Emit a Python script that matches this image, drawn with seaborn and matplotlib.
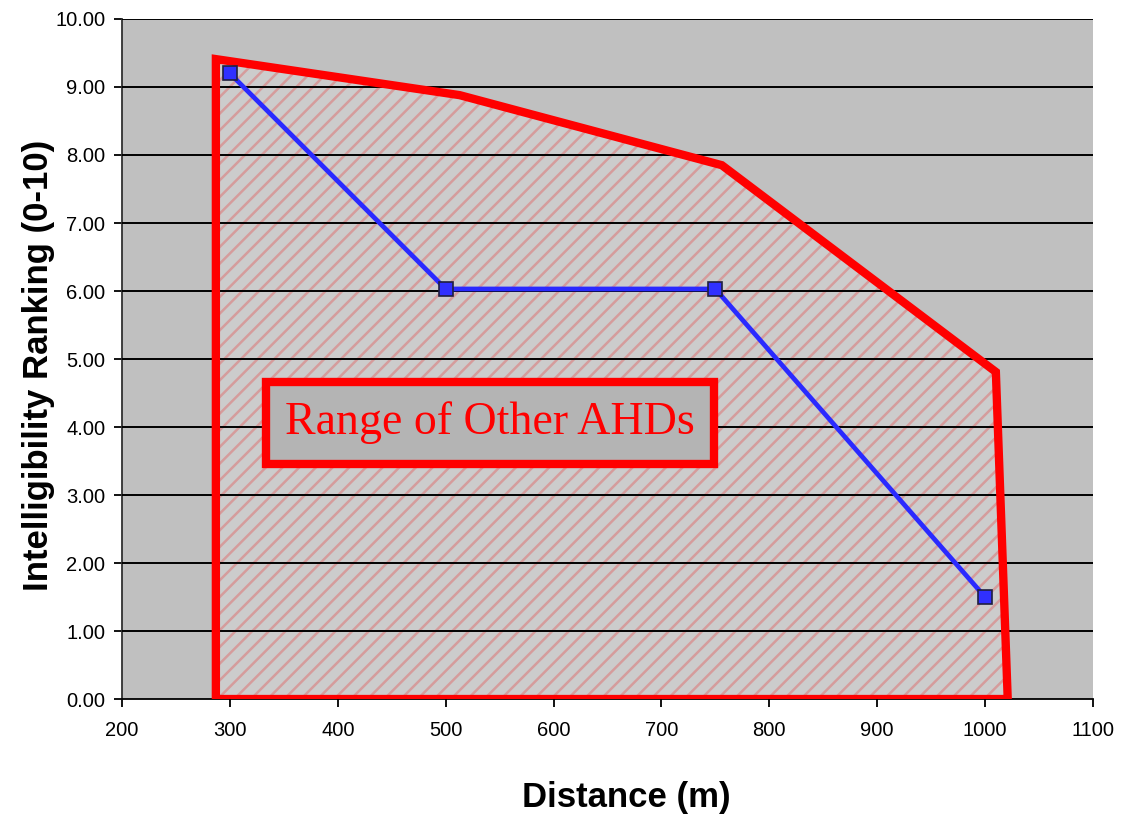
import numpy as np
import pandas as pd
import matplotlib
matplotlib.use('Agg')
import matplotlib.pyplot as plt
import seaborn as sns
from matplotlib.patches import Polygon

# measured series (blue line)
distance = [300, 500, 750, 1000]
ranking = [9.2, 6.03, 6.03, 1.5]

# outline of the "other AHDs" range
range_x = [287, 513, 756, 1010, 1021, 287]
range_y = [9.41, 8.88, 7.85, 4.81, 0.0, 0.0]

x_ticks = list(range(200, 1101, 100))
y_ticks = list(range(0, 11))

sns.set_theme(style='white')
plt.rcParams['font.family'] = ['Liberation Sans', 'DejaVu Sans']
plt.rcParams['hatch.linewidth'] = 1.8
plt.rcParams['text.color'] = 'black'
plt.rcParams['axes.labelcolor'] = 'black'
plt.rcParams['xtick.color'] = 'black'
plt.rcParams['ytick.color'] = 'black'

fig = plt.figure(figsize=(11.34, 8.15), dpi=100)
ax = fig.add_axes([0.1076, 0.1423, 0.8562, 0.8344])
ax.set_facecolor('#c0c0c0')

# horizontal gridlines, drawn over the hatched area
for yv in y_ticks[1:]:
    ax.axhline(yv, color='black', linewidth=1.4, zorder=3)

pts = np.column_stack([range_x, range_y])
ax.add_patch(Polygon(pts, closed=True, facecolor='#cccccc', edgecolor='#d59c9c',
                     hatch='//', linewidth=0, zorder=2))
ax.add_patch(Polygon(pts, closed=True, facecolor='none', edgecolor='#ff0000',
                     linewidth=6, joinstyle='miter', zorder=4))

df = pd.DataFrame({'Distance': distance, 'Ranking': ranking})
sns.lineplot(data=df, x='Distance', y='Ranking', ax=ax, color='#2a2aff',
             linewidth=3.4, marker='s', markersize=10, markerfacecolor='#3030ff',
             markeredgecolor='#202040', markeredgewidth=1.2, zorder=5)

ax.text(541, 4.06, 'Range of Other AHDs', family=['Liberation Serif', 'DejaVu Serif'],
        fontsize=33, color='#ff0000', ha='center', va='center', zorder=6,
        bbox=dict(boxstyle='square,pad=0.42', facecolor='#b4b4b4',
                  edgecolor='#ff0000', linewidth=6))

ax.set_xlim(200, 1100)
ax.set_ylim(0, 10)
ax.set_xticks(x_ticks)
ax.set_yticks(y_ticks)
ax.set_yticklabels([f'{v:.2f}' for v in y_ticks])
ax.tick_params(axis='both', direction='out', length=6, width=1.3, color='black',
               labelcolor='black', labelsize=14.5, pad=6)
ax.tick_params(axis='x', pad=10)
ax.tick_params(bottom=True, left=True)

for side in ['top', 'right']:
    ax.spines[side].set_visible(False)
ax.spines['left'].set_color('#303030')
ax.spines['left'].set_linewidth(1.3)
ax.spines['bottom'].set_color('black')
ax.spines['bottom'].set_linewidth(1.3)

ax.set_xlabel('Distance (m)', fontsize=25, fontweight='bold', color='black')
ax.set_ylabel('Intelligibility Ranking (0-10)', fontsize=25, fontweight='bold', color='black')
ax.xaxis.set_label_coords(0.519, -0.12)
ax.yaxis.set_label_coords(-0.069, 0.491)

fig.savefig('out.png', dpi=100)
